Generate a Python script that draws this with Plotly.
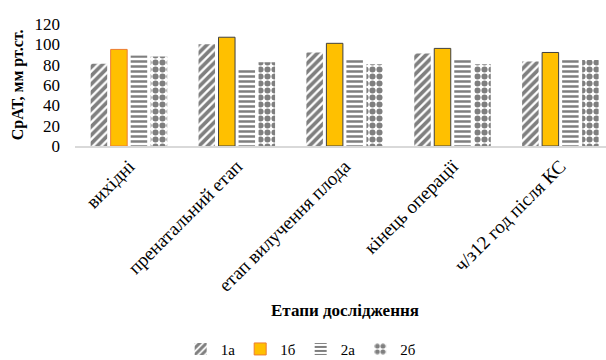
import plotly.graph_objects as go

categories = ["вихідні", "пренатальний етап", "етап вилучення плода", "кінець операції", "ч/з12 год після КС"]
s_1a = [81, 100, 92, 91, 83]
s_1b = [95, 107, 101, 96, 92]
s_2a = [89, 76, 85, 84.5, 84.5]
s_2b = [88, 82.5, 80.5, 80.5, 84.5]
names = ["1а", "1б", "2а", "2б"]
y_ticks = [0, 20, 40, 60, 80, 100, 120]

FONT = "Liberation Serif"

fig = go.Figure()
fig.add_trace(go.Bar(
    x=categories, y=s_1a, name=names[0],
    marker=dict(color="white", line=dict(width=0),
                pattern=dict(shape="/", fgcolor="black", bgcolor="white", size=6, solidity=0.62)),
))
fig.add_trace(go.Bar(
    x=categories, y=s_1b, name=names[1],
    marker=dict(color="#FFC000",
                line=dict(width=1, color=["#ED7D31", "#404040", "#404040", "#404040", "#404040"])),
))
fig.add_trace(go.Bar(
    x=categories, y=s_2a, name=names[2],
    marker=dict(color="white", line=dict(width=0),
                pattern=dict(shape="-", fgcolor="black", bgcolor="white", size=5, solidity=0.5)),
))
fig.add_trace(go.Bar(
    x=categories, y=s_2b, name=names[3],
    marker=dict(color="white", line=dict(width=0),
                pattern=dict(shape=".", fgcolor="black", bgcolor="white", size=7, solidity=0.6)),
))

fig.update_layout(
    width=606, height=360,
    margin=dict(l=75, r=0, t=24, b=214),
    paper_bgcolor="white", plot_bgcolor="white",
    barmode="group", bargap=0.258, bargroupgap=0.175,
    font=dict(family=FONT, color="black", size=14),
    showlegend=True,
    legend=dict(orientation="h", x=0.425, xanchor="center", yref="container", y=0.03, yanchor="middle",
                font=dict(family=FONT, size=15), itemwidth=30, tracegroupgap=0),
    xaxis=dict(range=[-0.5, 4.423], showline=True, linecolor="#D9D9D9", linewidth=1.5,
               showgrid=False, ticks="", tickangle=-45,
               tickfont=dict(family=FONT, size=19)),
    yaxis=dict(range=[0, 120], tickvals=y_ticks, showline=False, showgrid=False, zeroline=False,
               ticks="", ticklabelstandoff=14, tickfont=dict(family=FONT, size=17)),
    annotations=[
        dict(text="<b>СрАТ, мм рт.ст.</b>", xref="paper", yref="paper", x=-0.107, y=0.5,
             xanchor="center", yanchor="middle", textangle=-90, showarrow=False,
             font=dict(family=FONT, size=16)),
        dict(text="<b>Етапи дослідження</b>", xref="paper", yref="paper", x=0.5076, y=-1.35,
             xanchor="center", yanchor="middle", showarrow=False,
             font=dict(family=FONT, size=17)),
    ],
)

fig.write_html("out.html")
